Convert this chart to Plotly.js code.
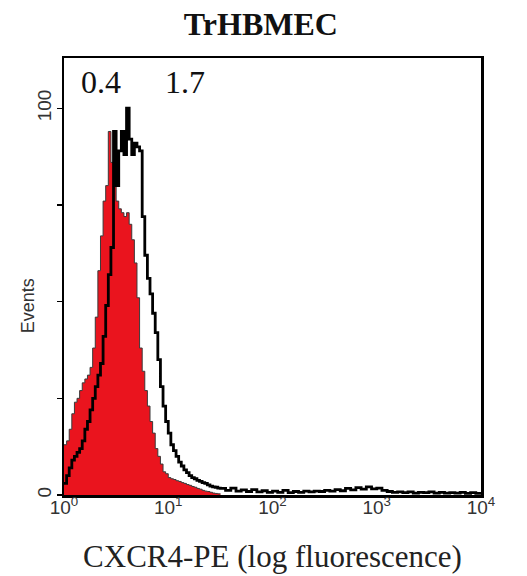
<!DOCTYPE html>
<html>
<head>
<meta charset="utf-8">
<script src="https://cdn.plot.ly/plotly-3.0.1.min.js"></script>
<style>html,body{margin:0;padding:0;background:#fff;}#chart{width:527px;height:576px;}</style>
</head>
<body>
<div id="chart"></div>
<script>
// Channel positions, in log10 decades of fluorescence
const mainLog = [0,0.025,0.05,0.075,0.1,0.125,0.15,0.175,0.2,0.225,0.25,0.275,0.3,0.325,0.35,0.375,0.4,0.425,0.45,0.475,0.5,0.525,0.55,0.575,0.6,0.625,0.65,0.675,0.7,0.725,0.75,0.775,0.8,0.825,0.85,0.875,0.9,0.925,0.95,0.975,1,1.025,1.05,1.075,1.1,1.125,1.15,1.175,1.2,1.225,1.25,1.275,1.3,1.325,1.35,1.375,1.4,1.425,1.45,1.475,1.5];
const tailLog = [1.55,1.6,1.65,1.7,1.75,1.8,1.85,1.9,1.95,2,2.05,2.1,2.15,2.2,2.25,2.3,2.35,2.4,2.45,2.5,2.55,2.6,2.65,2.7,2.75,2.8,2.85,2.9,2.95,3,3.05,3.1,3.15,3.2,3.25,3.3,3.35,3.4,3.45,3.5,3.55,3.6,3.65,3.7,3.75,3.8,3.85,3.9,3.95,4];

// Isotype control (red filled histogram), events per channel
const isotypeCounts = [13,14,17,21,24,25,27,29,30,31,33,38,46,58,67,76,80,94,86,80,76,74,73,72,73,70,66,60,51,38,32,27,23,19,16,12,10,8,6,5.5,4.5,4.2,4,3.7,3.5,3.2,3,2.7,2.5,2.2,2,1.7,1.5,1.2,1,0.9,0.7,0.5,0.4,0.3,0.2];

// CXCR4-PE stained cells (black line)
const cxcr4Main = [3,5,7,9,10,11,12,14,17,19,22,25,28,31,34,41,49,57,64,94,80,89,94,88,100,92,88,91,90,89,72,62,56,52,47,42,35,28,23,19,16,13,11.5,10,8.5,7.5,6.5,5.8,5,4.5,4.2,3.8,3.5,3.2,3,2.6,2.3,2.1,2,1.8,1.7];
const cxcr4Tail = [1.2,1.8,1.0,1.3,0.9,1.4,0.8,1.1,0.7,1.0,0.7,1.2,0.6,0.9,0.7,1.0,0.8,1.0,0.9,1.2,1.0,1.4,1.1,1.7,1.3,1.9,1.5,2.1,1.6,1.8,1.2,0.9,0.7,0.8,0.6,0.8,0.5,0.7,0.6,0.8,0.5,0.7,0.5,0.6,0.5,0.7,0.4,0.6,0.4,0.3];

const xTickVals = [1,10,100,1000,10000];
const xTickText = ['10<sup>0</sup>','10<sup>1</sup>','10<sup>2</sup>','10<sup>3</sup>','10<sup>4</sup>'];
const yTickVals = [0,25,50,75,100];
const yTickText = ['0','','','','100'];
const percentLabels = ['0.4','1.7'];
const yTitle = 'Events';

const toLinear = arr => arr.map(v => Math.pow(10, v));

const isotype = {
  x: toLinear(mainLog), y: isotypeCounts,
  type: 'scatter', mode: 'lines', line: {shape: 'hv', color: '#3a3a3a', width: 1},
  fill: 'tozeroy', fillcolor: 'rgb(234,20,30)', hoverinfo: 'skip'
};
const stained = {
  x: toLinear(mainLog.concat(tailLog)), y: cxcr4Main.concat(cxcr4Tail),
  type: 'scatter', mode: 'lines', line: {shape: 'hv', color: '#000', width: 2.8}, hoverinfo: 'skip'
};

const serif = 'Liberation Serif, Times New Roman, serif';
const sans = 'Liberation Sans, Arial, sans-serif';

const layout = {
  width: 527, height: 576,
  margin: {l: 64, r: 46, t: 58, b: 81},
  paper_bgcolor: '#fff', plot_bgcolor: '#fff',
  showlegend: false,
  title: {text: '<b>TrHBMEC</b>', x: 0.495, xanchor: 'center', y: 0.958, yanchor: 'middle',
    font: {family: serif, size: 32, color: '#111'}},
  xaxis: {
    type: 'log', range: [0, 4], tickvals: xTickVals, ticktext: xTickText,
    showline: true, linecolor: '#000', linewidth: 2.5, mirror: true,
    ticks: '', ticklabelstandoff: -6, showgrid: false, zeroline: false,
    tickfont: {family: sans, size: 19, color: '#333'},
    title: {text: 'CXCR4-PE (log fluorescence)', standoff: 28,
      font: {family: serif, size: 31, color: '#222'}}
  },
  yaxis: {
    range: [0, 113], tickvals: yTickVals, ticktext: yTickText, tickangle: -90,
    showline: true, linecolor: '#000', linewidth: 2.5, mirror: true,
    ticks: 'outside', ticklen: 5, tickwidth: 1.5, tickcolor: '#000',
    ticklabelstandoff: -2, showgrid: false, zeroline: false,
    tickfont: {family: sans, size: 19, color: '#333'}
  },
  annotations: [
    {text: percentLabels[0], xref: 'paper', yref: 'paper', x: 0.0887, y: 0.945, showarrow: false,
      xanchor: 'center', yanchor: 'middle', font: {family: serif, size: 32, color: '#111'}},
    {text: percentLabels[1], xref: 'paper', yref: 'paper', x: 0.29, y: 0.945, showarrow: false,
      xanchor: 'center', yanchor: 'middle', font: {family: serif, size: 32, color: '#111'}},
    {text: yTitle, xref: 'paper', yref: 'paper', x: -0.086, y: 0.432, showarrow: false, textangle: -90,
      xanchor: 'center', yanchor: 'middle', font: {family: sans, size: 18, color: '#333'}}
  ]
};

Plotly.newPlot('chart', [isotype, stained], layout, {staticPlot: true, displayModeBar: false});
</script>
</body>
</html>
